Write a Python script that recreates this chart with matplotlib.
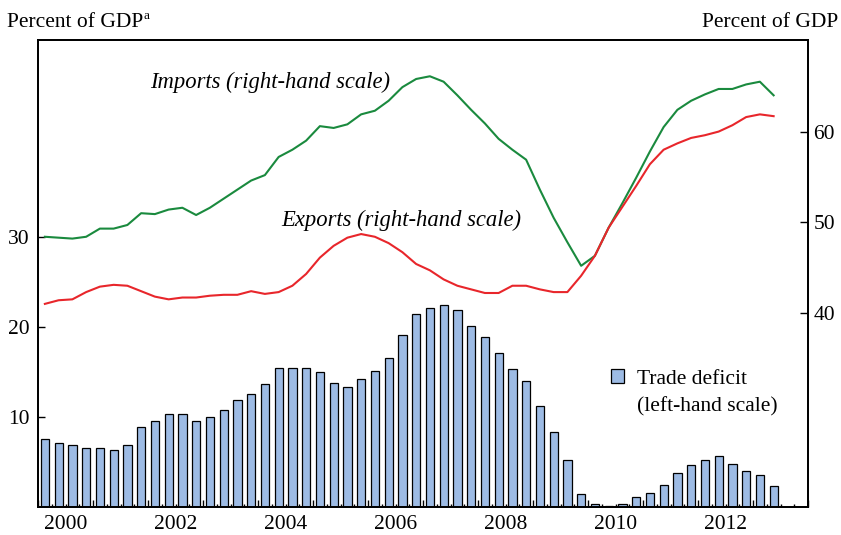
import numpy as np
import matplotlib
matplotlib.use("Agg")
import matplotlib.pyplot as plt
from matplotlib.ticker import MultipleLocator
from matplotlib.patches import Patch

# quarterly data, 2000Q1 .. 2013Q2
quarters = 2000.125 + 0.25 * np.arange(54)

deficit = [7.56, 7.11, 6.89, 6.56, 6.56, 6.33, 6.89, 8.89, 9.56, 10.33,
           10.33, 9.56, 10.0, 10.78, 11.89, 12.56, 13.67, 15.44, 15.44, 15.44,
           15.0, 13.78, 13.33, 14.22, 15.11, 16.56, 19.11, 21.44, 22.11, 22.44,
           21.89, 20.11, 18.89, 17.11, 15.33, 14.0, 11.22, 8.33, 5.22, 1.44,
           0.33, 0.11, 0.33, 1.11, 1.56, 2.44, 3.78, 4.67, 5.22, 5.67,
           4.78, 4.0, 3.56, 2.33]

imports = [48.4, 48.3, 48.2, 48.4, 49.3, 49.3, 49.7, 51.0, 50.9, 51.4,
           51.6, 50.8, 51.6, 52.6, 53.6, 54.6, 55.2, 57.2, 58.0, 59.0,
           60.6, 60.4, 60.8, 61.9, 62.3, 63.4, 64.9, 65.8, 66.1, 65.5,
           64.0, 62.4, 60.9, 59.2, 58.0, 56.9, 53.6, 50.5, 47.8, 45.2,
           46.3, 49.4, 52.1, 54.9, 57.8, 60.5, 62.4, 63.4, 64.1, 64.7,
           64.7, 65.2, 65.5, 64.0]

exports = [41.0, 41.4, 41.5, 42.3, 42.9, 43.1, 43.0, 42.4, 41.8, 41.5,
           41.7, 41.7, 41.9, 42.0, 42.0, 42.4, 42.1, 42.3, 43.0, 44.3,
           46.1, 47.4, 48.3, 48.7, 48.4, 47.7, 46.7, 45.4, 44.7, 43.7,
           43.0, 42.6, 42.2, 42.2, 43.0, 43.0, 42.6, 42.3, 42.3, 44.1,
           46.3, 49.4, 51.7, 54.0, 56.4, 58.0, 58.7, 59.3, 59.6, 60.0,
           60.7, 61.6, 61.9, 61.7]

year_labels = [2000, 2002, 2004, 2006, 2008, 2010, 2012]

plt.rcParams['font.family'] = ['Liberation Serif', 'DejaVu Serif']
fs = 15.5

fig = plt.figure(figsize=(8.41, 5.35), dpi=100)
ax = fig.add_axes([38/841, 1 - 507/535, 770/841, 467/535])
ax2 = ax.twinx()

bars = ax.bar(quarters, deficit, width=0.15, color='#9dbbe4',
              edgecolor='black', linewidth=0.9, zorder=2)
ax.set_xlim(2000, 2014)
ax.set_ylim(0, 51.9)
ax.set_yticks([10, 20, 30])
ax.tick_params(axis='y', direction='in', length=5, width=1, pad=6, labelsize=fs)
ax.xaxis.set_major_locator(MultipleLocator(1))
ax.xaxis.set_minor_locator(MultipleLocator(0.25))
ax.tick_params(axis='x', which='major', direction='in', length=5, width=1,
               labelbottom=False)
ax.tick_params(axis='x', which='minor', direction='in', length=2.3, width=1)
for y in year_labels:
    ax.annotate(str(y), xy=(y + 0.5, 0), xycoords=('data', 'axes fraction'),
                xytext=(0, -5.5), textcoords='offset points',
                ha='center', va='top', fontsize=fs)

ax2.plot(quarters, imports, color='#1a8a3e', lw=1.5)
ax2.plot(quarters, exports, color='#e8262b', lw=1.5)
ax2.set_ylim(18.6, 70.1)
ax2.set_yticks([40, 50, 60])
ax2.tick_params(axis='y', direction='in', length=6, width=1, pad=4, labelsize=fs)

for a in (ax, ax2):
    for s in a.spines.values():
        s.set_linewidth(1.3)

ax2.text(2004.22, 65.4, 'Imports (right-hand scale)', style='italic',
         fontsize=16.3, ha='center', va='center')
ax2.text(2006.6, 50.25, 'Exports (right-hand scale)', style='italic',
         fontsize=16.3, ha='center', va='center')

blank = Patch(visible=False)
ax.legend([bars, blank], ['Trade deficit', '(left-hand scale)'],
          loc='upper left', bbox_to_anchor=(0.744, 0.295), frameon=False,
          fontsize=fs, handlelength=0.6, handleheight=0.6, handletextpad=0.6,
          borderpad=0, borderaxespad=0, labelspacing=0.38)

t = fig.text(7/841, 1 - 27/535, 'Percent of GDP', fontsize=fs, ha='left',
             va='baseline')
ax.annotate('a', xy=(1, 1), xycoords=t, xytext=(0.5, 2),
            textcoords='offset points', fontsize=fs * 0.62, ha='left', va='top')
fig.text(838/841, 1 - 27/535, 'Percent of GDP', fontsize=fs, ha='right',
         va='baseline')

fig.savefig('out.png', dpi=100)
